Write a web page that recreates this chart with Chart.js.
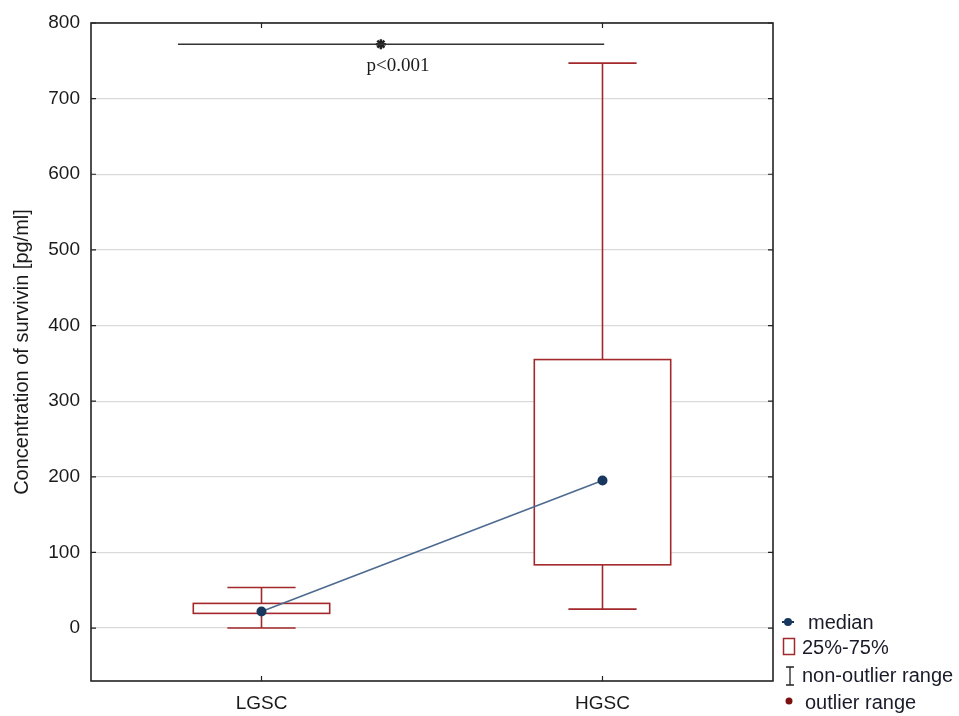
<!DOCTYPE html>
<html>
<head>
<meta charset="utf-8">
<script src="https://cdn.jsdelivr.net/npm/chart.js@4.4.1/dist/chart.umd.min.js"></script>
<style>
  body { margin: 0; background: #fff; }
  canvas { display: block; }
</style>
</head>
<body>
<canvas id="chart" width="959" height="716"></canvas>
<script>
// Datos del grafico
var groups = ['LGSC', 'HGSC'];
var whiskerLow = [0, 25];
var q1 = [19.4, 83.6];
var medians = [22, 195];
var q3 = [32.6, 355];
var whiskerHigh = [53.7, 747];
var yTicks = [0, 100, 200, 300, 400, 500, 600, 700, 800];
// barra de significancia (desde, hasta, altura, marca)
var sigFrom = 0.755, sigTo = 2.005, sigY = 772, sigMark = 1.35;
var sigText = 'p<0.001';

var RED = '#a3282b';
var NAVY = '#17375e';
var FONT = 'Liberation Sans, Arial, sans-serif';

// cajas y bigotes
var boxPlugin = {
  id: 'boxes',
  beforeDatasetsDraw: function(chart) {
    var ctx = chart.ctx, xs = chart.scales.x, ys = chart.scales.y;
    ctx.save();
    ctx.strokeStyle = RED;
    ctx.lineWidth = 1.6;
    for (var i = 0; i < groups.length; i++) {
      var x = xs.getPixelForValue(i + 1);
      var bh = xs.getPixelForValue(i + 1.2) - x;
      var ch = xs.getPixelForValue(i + 1.1) - x;
      var yLo = ys.getPixelForValue(whiskerLow[i]);
      var yHi = ys.getPixelForValue(whiskerHigh[i]);
      var y1 = ys.getPixelForValue(q1[i]);
      var y3 = ys.getPixelForValue(q3[i]);
      ctx.beginPath();
      ctx.moveTo(x, yHi); ctx.lineTo(x, y3);
      ctx.moveTo(x, y1); ctx.lineTo(x, yLo);
      ctx.moveTo(x - ch, yHi); ctx.lineTo(x + ch, yHi);
      ctx.moveTo(x - ch, yLo); ctx.lineTo(x + ch, yLo);
      ctx.stroke();
      ctx.fillStyle = '#fff';
      ctx.fillRect(x - bh, y3, 2 * bh, y1 - y3);
      ctx.strokeRect(x - bh, y3, 2 * bh, y1 - y3);
    }
    ctx.restore();
  },
  afterDraw: function(chart) {
    var ctx = chart.ctx, a = chart.chartArea, xs = chart.scales.x, ys = chart.scales.y;
    ctx.save();
    // marco
    ctx.strokeStyle = '#222';
    ctx.lineWidth = 1.6;
    ctx.strokeRect(a.left, a.top, a.right - a.left, a.bottom - a.top);
    // marcas hacia dentro
    ctx.lineWidth = 1.2;
    ctx.beginPath();
    yTicks.forEach(function(v) {
      var y = ys.getPixelForValue(v);
      ctx.moveTo(a.left, y); ctx.lineTo(a.left + 5, y);
      ctx.moveTo(a.right, y); ctx.lineTo(a.right - 5, y);
    });
    groups.forEach(function(g, i) {
      var x = xs.getPixelForValue(i + 1);
      ctx.moveTo(x, a.top); ctx.lineTo(x, a.top + 5);
      ctx.moveTo(x, a.bottom); ctx.lineTo(x, a.bottom - 5);
    });
    ctx.stroke();
    // texto p
    ctx.fillStyle = '#1a1a1a';
    ctx.font = '19px "Liberation Serif", "Times New Roman", serif';
    ctx.textAlign = 'center';
    ctx.textBaseline = 'middle';
    ctx.fillText(sigText, xs.getPixelForValue(1.4), ys.getPixelForValue(sigY) + 22);
    // leyenda
    var lx = a.right, by = a.bottom;
    ctx.font = '20px ' + FONT;
    ctx.textAlign = 'left';
    // median
    ctx.strokeStyle = NAVY; ctx.fillStyle = NAVY; ctx.lineWidth = 2;
    ctx.beginPath(); ctx.moveTo(lx + 9, by - 59); ctx.lineTo(lx + 21, by - 59); ctx.stroke();
    ctx.beginPath(); ctx.arc(lx + 15, by - 59, 4, 0, Math.PI * 2); ctx.fill();
    ctx.fillStyle = '#1a1a2a';
    ctx.fillText('median', lx + 35, by - 58);
    // 25%-75%
    ctx.strokeStyle = RED; ctx.lineWidth = 1.5;
    ctx.strokeRect(lx + 10.5, by - 42.5, 11, 16);
    ctx.fillText('25%-75%', lx + 29, by - 33);
    // non-outlier
    ctx.strokeStyle = '#222'; ctx.lineWidth = 1.3;
    ctx.beginPath();
    ctx.moveTo(lx + 13, by - 14); ctx.lineTo(lx + 21, by - 14);
    ctx.moveTo(lx + 17, by - 14); ctx.lineTo(lx + 17, by + 4);
    ctx.moveTo(lx + 13, by + 4); ctx.lineTo(lx + 21, by + 4);
    ctx.stroke();
    ctx.fillText('non-outlier range', lx + 29, by - 5);
    // outlier
    ctx.fillStyle = '#7a1010';
    ctx.beginPath(); ctx.arc(lx + 16, by + 20, 3.5, 0, Math.PI * 2); ctx.fill();
    ctx.fillStyle = '#1a1a2a';
    ctx.fillText('outlier range', lx + 32, by + 22);
    ctx.restore();
  }
};

var config = {
  type: 'line',
  data: {
    datasets: [{
      label: 'median',
      data: groups.map(function(g, i) { return { x: i + 1, y: medians[i] }; }),
      borderColor: '#4d6a90',
      borderWidth: 1.6,
      pointRadius: 5,
      pointBackgroundColor: NAVY,
      pointBorderColor: NAVY,
      pointBorderWidth: 0
    }, {
      label: 'sig',
      data: [{ x: sigFrom, y: sigY }, { x: sigTo, y: sigY }],
      borderColor: '#333',
      borderWidth: 1.5,
      pointRadius: 0
    }, {
      label: 'sigmark',
      data: [{ x: sigMark, y: sigY }],
      showLine: false,
      pointStyle: 'star',
      pointRadius: 5,
      borderColor: '#222',
      borderWidth: 2.5
    }]
  },
  options: {
    responsive: false,
    animation: false,
    layout: { padding: { left: 0, right: 186, top: 23, bottom: 0 } },
    plugins: { legend: { display: false }, tooltip: { enabled: false } },
    scales: {
      x: {
        type: 'linear',
        min: 0.5,
        max: 2.5,
        afterBuildTicks: function(s) { s.ticks = groups.map(function(g, i) { return { value: i + 1 }; }); },
        afterFit: function(s) { s.height = 35; },
        grid: { display: false, drawTicks: false },
        border: { display: false },
        ticks: {
          padding: 11,
          color: '#1a1a1a',
          font: { family: FONT, size: 19 },
          callback: function(v) { return groups[v - 1]; }
        }
      },
      y: {
        min: -70,
        max: 800,
        afterBuildTicks: function(s) { s.ticks = yTicks.map(function(v) { return { value: v }; }); },
        afterFit: function(s) { s.width = 91; },
        grid: { color: '#dadada', lineWidth: 1.2, drawTicks: false },
        border: { display: false },
        ticks: { padding: 11, color: '#1a1a1a', font: { family: FONT, size: 19 } },
        title: {
          display: true,
          text: 'Concentration of survivin [pg/ml]',
          color: '#1a1a1a',
          font: { family: FONT, size: 20 },
          padding: { top: 10, bottom: 4 }
        }
      }
    }
  },
  plugins: [boxPlugin]
};

var ctx = document.getElementById('chart').getContext('2d');
window.grafico = new Chart(ctx, config);
</script>
</body>
</html>
